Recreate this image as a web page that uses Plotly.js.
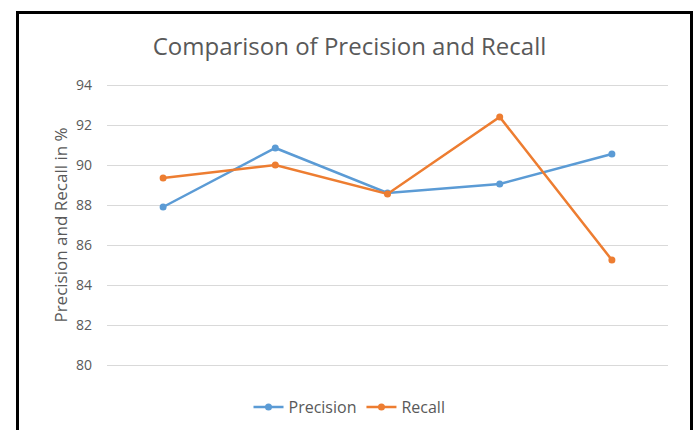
<!DOCTYPE html>
<html>
<head>
<meta charset="utf-8">
<script src="https://cdn.plot.ly/plotly-3.0.1.min.js"></script>
<style>
  html, body { margin: 0; padding: 0; background: #ffffff; }
  #wrap { position: relative; width: 699px; height: 430px; overflow: hidden; }
  #chart { position: absolute; left: 0; top: 0; width: 699px; height: 430px; }
  #frame { position: absolute; left: 16px; top: 11px; width: 671px; height: 430px;
           border-left: 3px solid #000; border-top: 3px solid #000; border-right: 3px solid #000;
           pointer-events: none; }
</style>
</head>
<body>
<div id="wrap">
  <div id="chart"></div>
  <div id="frame"></div>
</div>
<script>
const categories = [1, 2, 3, 4, 5];
const precision = [87.9, 90.85, 88.6, 89.05, 90.55];
const recall = [89.35, 90.0, 88.55, 92.4, 85.25];
const yTicks = [80, 82, 84, 86, 88, 90, 92, 94];

const traces = [
  { x: categories, y: precision, name: 'Precision', type: 'scatter', mode: 'lines+markers',
    line: { color: '#5b9bd5', width: 2.5 }, marker: { color: '#5b9bd5', size: 7 } },
  { x: categories, y: recall, name: 'Recall', type: 'scatter', mode: 'lines+markers',
    line: { color: '#ed7d31', width: 2.5 }, marker: { color: '#ed7d31', size: 7 } }
];

const layout = {
  width: 699, height: 430,
  margin: { l: 107, r: 31, t: 82, b: 62 },
  paper_bgcolor: '#ffffff', plot_bgcolor: '#ffffff',
  font: { family: 'Open Sans, sans-serif', color: '#595959' },
  title: { text: 'Comparison of Precision and Recall', x: 0.5, xref: 'container', y: 1 - 47/430, yref: 'container', yanchor: 'middle',
           font: { size: 24, color: '#595959', family: 'Open Sans, sans-serif' } },
  xaxis: { range: [0.5, 5.5], showticklabels: false, showgrid: false, zeroline: false, showline: false, ticks: '', fixedrange: true },
  yaxis: { range: [79.85, 94.15], tickvals: yTicks, ticktext: yTicks.map(String), showgrid: true, gridcolor: '#d9d9d9', gridwidth: 1,
           zeroline: false, showline: false, ticks: '', ticklabelstandoff: 14,
           tickfont: { size: 14, color: '#595959' },
           title: { text: 'Precision and Recall in %', standoff: 4, font: { size: 17, color: '#595959' } } },
  showlegend: true,
  legend: { orientation: 'h', x: 0.5, xref: 'container', xanchor: 'center', y: 1 - 407/430, yref: 'container', yanchor: 'middle',
            font: { size: 16, color: '#595959' }, itemwidth: 30, bgcolor: 'rgba(0,0,0,0)' }
};

Plotly.newPlot('chart', traces, layout, { displayModeBar: false, staticPlot: true });
</script>
</body>
</html>
